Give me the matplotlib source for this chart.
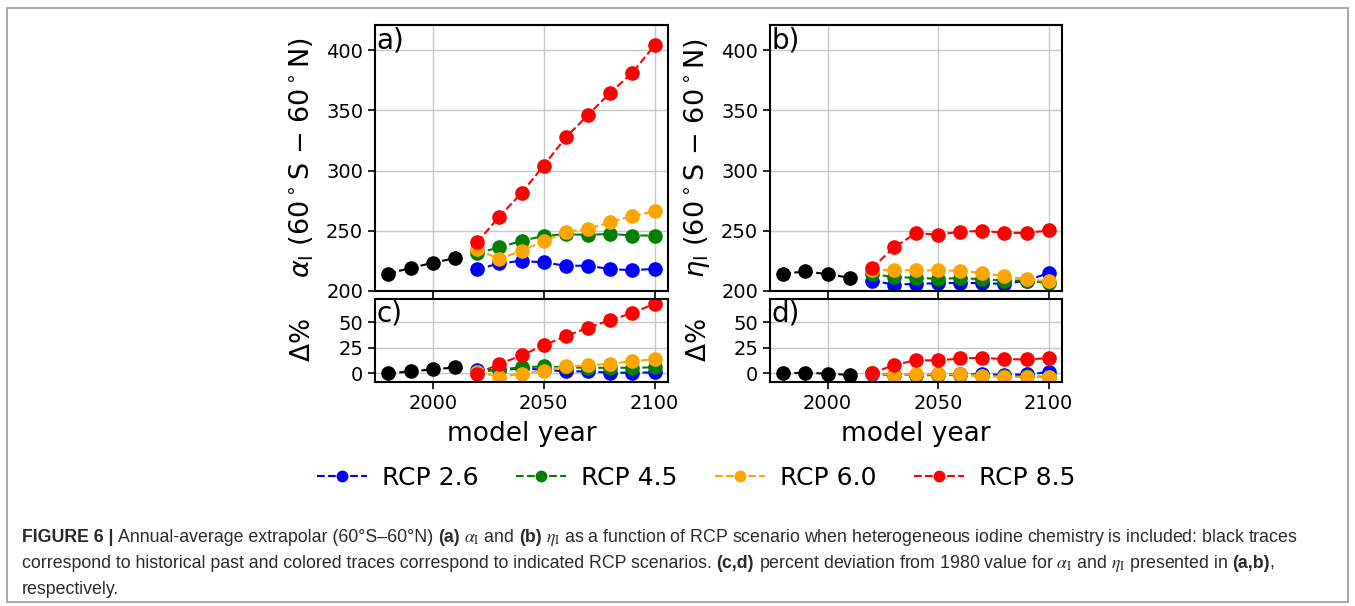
import matplotlib
matplotlib.use("Agg")
import matplotlib.pyplot as plt
from matplotlib.patches import Rectangle
from matplotlib.lines import Line2D

years_hist = [1980, 1990, 2000, 2010]
years_rcp = [2020, 2030, 2040, 2050, 2060, 2070, 2080, 2090, 2100]
scenarios = ["RCP 2.6", "RCP 4.5", "RCP 6.0", "RCP 8.5"]
colors = ["blue", "green", "orange", "red"]

# panel a: alpha_I
alpha_hist = [214.5, 219.0, 223.5, 227.2]
alpha_26 = [217.9, 222.9, 225.1, 223.7, 221.0, 221.0, 218.2, 217.3, 218.4]
alpha_45 = [231.3, 236.3, 241.6, 245.8, 247.2, 246.6, 247.5, 246.1, 246.1]
alpha_60 = [234.6, 226.5, 233.5, 241.3, 249.2, 251.7, 257.0, 262.6, 266.1]
alpha_85 = [240.5, 261.8, 281.4, 304.2, 327.7, 346.3, 364.8, 381.4, 404.2]

# panel b: eta_I
eta_hist = [214.3, 216.3, 214.0, 211.0]
eta_26 = [208.7, 205.3, 205.9, 206.5, 206.7, 206.5, 205.9, 208.7, 214.9]
eta_45 = [214.3, 211.5, 211.0, 210.1, 210.7, 209.8, 208.7, 208.7, 206.5]
eta_60 = [217.6, 217.4, 217.1, 217.1, 216.9, 214.9, 212.4, 209.8, 207.9]
eta_85 = [218.8, 236.2, 248.0, 246.9, 249.2, 250.0, 248.3, 248.3, 250.3]

# panel c: percent deviation of alpha_I
dalpha_hist = [0.0, 2.0, 3.9, 5.9]
dalpha_26 = [3.3, 2.9, 4.9, 3.6, 2.0, 2.0, 0.7, 0.7, 1.0]
dalpha_45 = [1.3, 3.9, 5.9, 6.9, 5.9, 5.5, 5.5, 5.6, 5.9]
dalpha_60 = [1.3, -3.3, -0.3, 2.6, 6.9, 7.8, 9.5, 11.8, 14.0]
dalpha_85 = [-0.3, 9.2, 17.6, 27.5, 36.6, 44.8, 52.3, 59.2, 68.3]

# panel d: percent deviation of eta_I
deta_hist = [0.0, 0.6, -0.2, -1.5]
deta_26 = [-0.5, -1.6, -1.3, -1.0, -0.9, -1.0, -1.3, -1.0, 1.3]
deta_45 = [0.5, -1.3, -1.5, -1.8, -1.5, -2.1, -2.6, -2.6, -3.6]
deta_60 = [0.0, -1.3, -1.0, -0.7, -1.0, -2.3, -3.6, -3.3, -3.9]
deta_85 = [0.0, 8.2, 13.0, 12.7, 14.7, 15.3, 14.0, 13.7, 15.0]

W, H = 1355, 606
fig = plt.figure(figsize=(W / 100, H / 100), dpi=100)


def box(l, t, r, b):
    return [l / W, 1 - b / H, (r - l) / W, (b - t) / H]


ax_a = fig.add_axes(box(375, 25, 668, 291))
ax_c = fig.add_axes(box(375, 299, 668, 382), sharex=ax_a)
ax_b = fig.add_axes(box(770, 25, 1062, 291), sharex=ax_a)
ax_d = fig.add_axes(box(770, 299, 1062, 382), sharex=ax_a)

panels = [
    (ax_a, alpha_hist, [alpha_26, alpha_45, alpha_60, alpha_85], "a)"),
    (ax_b, eta_hist, [eta_26, eta_45, eta_60, eta_85], "b)"),
    (ax_c, dalpha_hist, [dalpha_26, dalpha_45, dalpha_60, dalpha_85], "c)"),
    (ax_d, deta_hist, [deta_26, deta_45, deta_60, deta_85], "d)"),
]

for ax, hist, series, tag in panels:
    ax.plot(years_hist, hist, "--o", color="black", ms=9.5, lw=1.5)
    for vals, c in zip(series, colors):
        ax.plot(years_rcp, vals, "--o", color=c, ms=9.5, lw=1.5)
    ax.grid(True, color="#c8c8c8", lw=1)
    ax.set_axisbelow(True)
    ax.tick_params(labelsize=14, length=5, width=1.2)
    for s in ax.spines.values():
        s.set_linewidth(1.5)
    ax.text(0.005, 0.995, tag, transform=ax.transAxes, fontsize=20, va="top", ha="left")

for ax in (ax_a, ax_b):
    ax.set_ylim(200, 421)
    ax.set_yticks([200, 250, 300, 350, 400])
    ax.tick_params(labelbottom=False)
for ax in (ax_c, ax_d):
    ax.set_ylim(-8.4, 72.9)
    ax.set_yticks([0, 25, 50])
    ax.set_xticks([2000, 2050, 2100])
    ax.set_xlabel("model year", fontsize=19, labelpad=6)
    ax.set_ylabel(r"$\Delta$%", fontsize=19, labelpad=4)
ax_a.set_xlim(1974, 2106)

ax_a.set_ylabel(r"$\alpha_\mathrm{I}$ (60$^\circ$S $-$ 60$^\circ$N)", fontsize=19.5, labelpad=6)
ax_b.set_ylabel(r"$\eta_\mathrm{I}$ (60$^\circ$S $-$ 60$^\circ$N)", fontsize=19.5, labelpad=6)
for ax in (ax_a, ax_c, ax_b, ax_d):
    ax.yaxis.set_label_coords(-0.2, 0.5)

handles = [Line2D([], [], color=c, ls="--", marker="o", ms=7.5, lw=1.5) for c in colors]
fig.legend(handles, scenarios, loc="center", bbox_to_anchor=(696 / W, 1 - 478 / H),
           ncol=4, fontsize=18, frameon=False, columnspacing=1.5, handletextpad=0.6)

# caption box and text
fig.patches.append(Rectangle((7 / W, 4 / H), 1341 / W, 594 / H, transform=fig.transFigure,
                             fill=False, ec="#9a9a9a", lw=1.2))

cap_fam = ["Liberation Sans Narrow", "Liberation Sans", "DejaVu Sans"]
cap_size = 12.75
renderer = fig.canvas.get_renderer()


def caption_line(x_px, y_px, parts):
    x = x_px
    space = cap_size * 100 / 72 * 0.26
    for txt, bold, gap in parts:
        x += space if gap else 0
        t = fig.text(x / W, 1 - y_px / H, txt, fontsize=cap_size, family=cap_fam,
                     fontweight="bold" if bold else "normal", va="center", ha="left",
                     color="#2a2a2a", math_fontfamily="stix")
        x += t.get_window_extent(renderer).width


caption_line(22, 537, [
    ("FIGURE 6 |", True, False),
    ("Annual-average extrapolar (60°S–60°N)", False, True),
    ("(a)", True, True),
    (r"$\alpha_\mathrm{I}$ and", False, True),
    ("(b)", True, True),
    (r"$\eta_\mathrm{I}$ as a function of RCP scenario when heterogeneous iodine chemistry is included: black traces",
     False, True),
])
caption_line(22, 563, [
    ("correspond to historical past and colored traces correspond to indicated RCP scenarios.", False, False),
    ("(c,d)", True, True),
    (r"percent deviation from 1980 value for $\alpha_\mathrm{I}$ and $\eta_\mathrm{I}$ presented in", False, True),
    ("(a,b)", True, True),
    (",", False, False),
])
caption_line(22, 589, [("respectively.", False, False)])

fig.savefig("out.png", dpi=100)
